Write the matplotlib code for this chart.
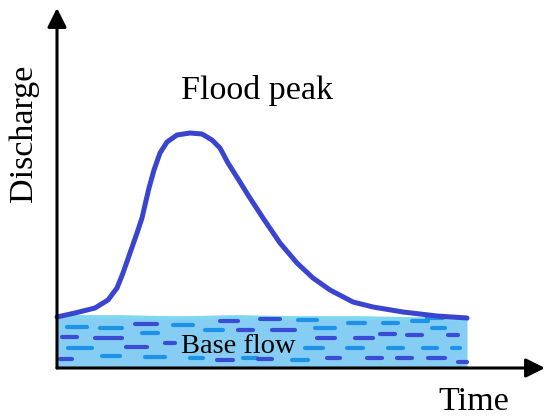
import matplotlib
matplotlib.use("Agg")
import matplotlib.pyplot as plt
import numpy as np

plt.rcParams['font.family'] = ['Liberation Serif', 'DejaVu Serif']

# Hydrograph (time, discharge) in arbitrary units
hydro_t = [0, 18, 38, 51, 60, 66, 73, 80, 85, 88, 92, 97, 103, 110, 120, 133,
           145, 155, 163, 171, 183, 191, 206, 223, 240, 256, 273, 296, 316, 346,
           380, 410]
hydro_q = [51, 55, 60, 68, 80, 95, 115, 135, 150, 163, 180, 198, 215, 226, 233,
           235, 234, 228, 220, 205, 186, 173, 150, 125, 105, 90, 78, 66, 61, 56,
           52, 50]

# Base flow surface
base_t = [0, 60, 120, 180, 240, 300, 360, 410]
base_q = [53, 53, 52, 53, 52, 52, 51, 51]

# Water dashes inside base flow (start, end, level) in image-like units
dash_x0 = [67, 62, 68, 60, 100, 95, 102, 135, 142, 126, 145, 165, 173, 220, 205,
           238, 190, 217, 243, 260, 298, 272, 315, 317, 305, 258, 292, 327, 348,
           355, 347, 367, 383, 380, 388, 397, 412, 407, 423, 428, 432, 448, 452,
           458, 427]
dash_x1 = [87, 77, 92, 72, 122, 122, 120, 157, 158, 147, 165, 175, 193, 238, 223,
           253, 203, 233, 257, 280, 317, 295, 335, 335, 323, 272, 308, 340, 365,
           373, 363, 382, 398, 395, 403, 412, 428, 422, 437, 445, 445, 458, 460,
           467, 443]
dash_y = [327, 337, 348, 359, 328, 338, 356, 324, 333, 347, 357, 343, 325, 321,
          330, 330, 358, 360, 358, 319, 320, 330, 328, 338, 348, 359, 360, 358,
          323, 338, 348, 358, 323, 334, 348, 358, 321, 335, 348, 358, 328, 335,
          348, 362, 318]

X0, Y0 = 57, 368  # image origin of the axes (pixels)

fig = plt.figure(figsize=(5.5, 4.2), dpi=100)
ax = fig.add_axes([X0 / 550, (420 - Y0) / 420, (545 - X0) / 550, (Y0 - 8) / 420])
ax.set_xlim(0, 488)
ax.set_ylim(0, 360)
ax.axis('off')

# base flow
ax.fill_between(base_t, 0, base_q, color='#86cdf4', lw=0, zorder=1, clip_on=False)
ax.plot(base_t, np.array(base_q) - 2, color='#7fd8f0', lw=2.5, zorder=1.5,
        clip_on=False)

cols = ['#1e92e6', '#3b4cd4']
for i, (a, b, y) in enumerate(zip(dash_x0, dash_x1, dash_y)):
    q = Y0 - y
    ax.plot([a - X0, b - X0], [q, q], color=cols[i % 2], lw=3.0,
            solid_capstyle='round', zorder=2, clip_on=False)

# hydrograph
ax.plot(hydro_t, hydro_q, color='#3a44cf', lw=3.6, solid_capstyle='round',
        solid_joinstyle='round', zorder=3, clip_on=False)

# axes with arrows
arrow = dict(arrowstyle='-|>,head_length=0.8,head_width=0.4', color='black',
             lw=2.2, mutation_scale=14.4, shrinkA=0, shrinkB=0)
ax.annotate('', xy=(0, 360), xytext=(0, 0), arrowprops=arrow, annotation_clip=False)
ax.annotate('', xy=(488, 0), xytext=(0, 0), arrowprops=arrow, annotation_clip=False)

fig.text(257 / 550, 1 - 99 / 420, 'Flood peak', fontsize=24.5, ha='center', va='baseline')
fig.text(474 / 550, 1 - 410 / 420, 'Time', fontsize=24.5, ha='center', va='baseline')
fig.text(238 / 550, 1 - 353 / 420, 'Base flow', fontsize=20.5, ha='center', va='baseline',
         zorder=5)
fig.text(24 / 550, 1 - 133.5 / 420, 'Discharge', fontsize=24.5, ha='center', va='center',
         rotation=90)

fig.savefig('out.png', dpi=100)
